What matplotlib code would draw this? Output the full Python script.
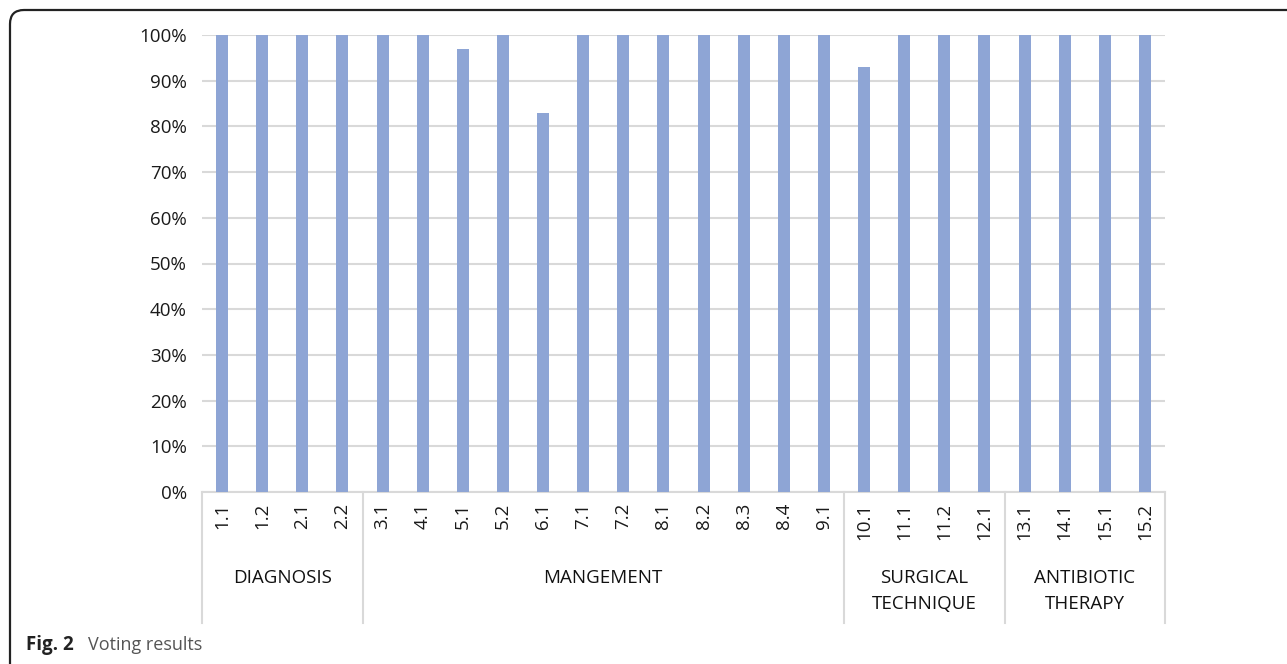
import matplotlib
matplotlib.use("Agg")
import matplotlib.pyplot as plt
from matplotlib.patches import FancyBboxPatch
from matplotlib.transforms import IdentityTransform, blended_transform_factory

plt.rcParams['font.family'] = ['Open Sans', 'DejaVu Sans']

# data
items = ["1.1", "1.2", "2.1", "2.2", "3.1", "4.1", "5.1", "5.2", "6.1", "7.1", "7.2", "8.1",
         "8.2", "8.3", "8.4", "9.1", "10.1", "11.1", "11.2", "12.1", "13.1", "14.1", "15.1", "15.2"]
votes = [1.00, 1.00, 1.00, 1.00, 1.00, 1.00, 0.97, 1.00, 0.83, 1.00, 1.00, 1.00,
         1.00, 1.00, 1.00, 1.00, 0.93, 1.00, 1.00, 1.00, 1.00, 1.00, 1.00, 1.00]
groups = ["DIAGNOSIS", "MANGEMENT", "SURGICAL\nTECHNIQUE", "ANTIBIOTIC\nTHERAPY"]
group_sizes = [4, 12, 4, 4]

W, H = 1287, 664
fig = plt.figure(figsize=(W / 100, H / 100), dpi=100)
ax = fig.add_axes([202 / W, (H - 492) / H, (1165 - 202) / W, (492 - 35) / H])

x = list(range(len(items)))
ax.bar(x, votes, width=0.3, color="#8EA5D5", zorder=3)

ax.set_xlim(-0.5, len(items) - 0.5)
ax.set_ylim(0, 1)
ax.set_yticks([i / 10 for i in range(11)])
ax.set_yticklabels([f"{i * 10}%" for i in range(11)], fontsize=13.5, color="#1a1a1a")
ax.set_xticks(x)
ax.set_xticklabels(items, rotation=90, fontsize=13.5, color="#1a1a1a")
ax.tick_params(length=0, axis="y", pad=11)
ax.tick_params(length=0, axis="x", pad=8)
ax.grid(axis="y", color="#d9d9d9", linewidth=1.5, zorder=0)
for s in ["top", "right", "left"]:
    ax.spines[s].set_visible(False)
ax.spines["bottom"].set_color("#d9d9d9")
ax.spines["bottom"].set_linewidth(1.5)

# group separators and labels
tr = blended_transform_factory(ax.transData, ax.transAxes)
y_low = (492 - 623) / 457
start = -0.5
ax.plot([start, start], [0, y_low], color="#d9d9d9", lw=1.5, transform=tr, clip_on=False)
for name, n in zip(groups, group_sizes):
    end = start + n
    ax.plot([end, end], [0, y_low], color="#d9d9d9", lw=1.5, transform=tr, clip_on=False)
    ypos = (492 - 578) / 457 if "\n" not in name else (492 - 591) / 457
    ax.text((start + end) / 2, ypos, name, transform=tr, ha="center", va="center",
            fontsize=13.5, color="#111111", linespacing=1.55)
    start = end

# rounded frame
frame = FancyBboxPatch((10, -30), 1320, H - 10 + 30, boxstyle="round,pad=0,rounding_size=14",
                       transform=IdentityTransform(), fill=False, edgecolor="#222222", linewidth=1.6)
fig.patches.append(frame)

fig.text(26 / W, (H - 645) / H, "Fig. 2", fontsize=13.5, fontweight="bold", color="#222222", va="center")
fig.text(88 / W, (H - 645) / H, "Voting results", fontsize=13, color="#555555", va="center")

fig.savefig("out.png", dpi=100)
